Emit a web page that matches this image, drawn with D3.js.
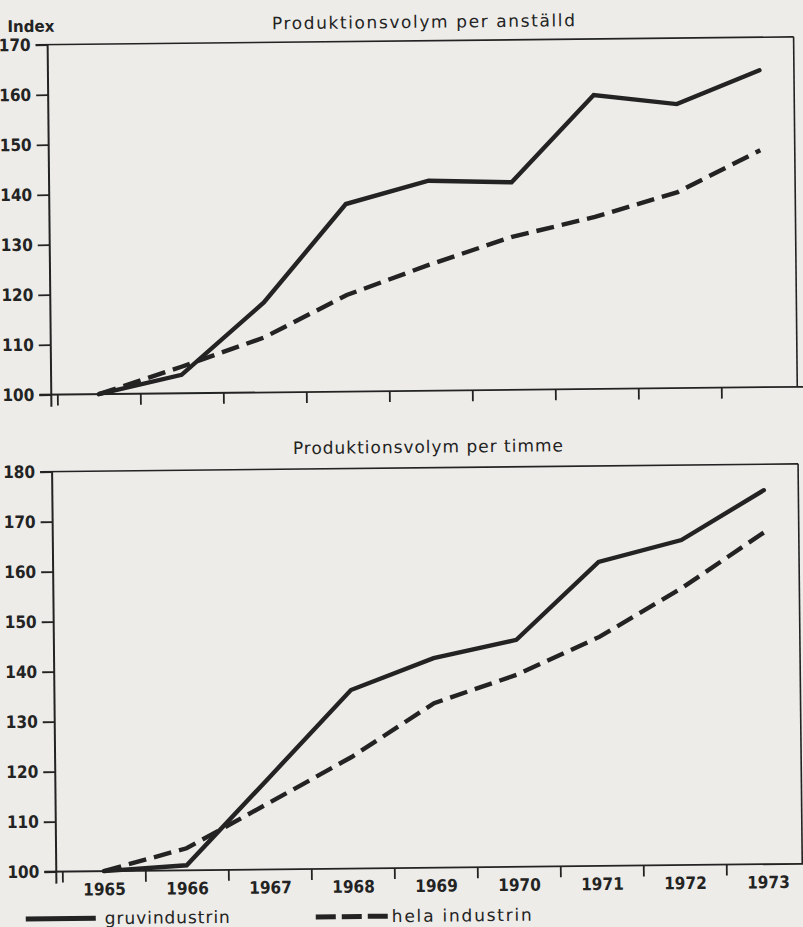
<!DOCTYPE html>
<html>
<head>
<meta charset="utf-8">
<script src="https://cdn.jsdelivr.net/npm/d3@7"></script>
<style>
  html, body { margin: 0; padding: 0; background: #edece8; }
  svg { display: block; }
</style>
</head>
<body>
<svg id="chart" width="803" height="927"></svg>
<script>
// ---- data ----
const years = [1965, 1966, 1967, 1968, 1969, 1970, 1971, 1972, 1973];
const perAnstalldGruv = [100, 103.7, 118, 137.5, 142, 141.5, 158.8, 156.8, 163.4];
const perAnstalldHela = [100, 105.3, 111, 119.3, 125.2, 130.6, 134.4, 139.2, 147.4];
const perTimmeGruv = [100, 101, 118.3, 135.7, 141.9, 145.4, 160.8, 165, 174.8];
const perTimmeHela = [100, 104.4, 113.3, 122.3, 132.9, 138.4, 145.8, 155.4, 166.4];
const topTicks = [100, 110, 120, 130, 140, 150, 160, 170];
const bottomTicks = [100, 110, 120, 130, 140, 150, 160, 170, 180];
const titles = ["Produktionsvolym per anställd", "Produktionsvolym per timme"];
const seriesNames = ["gruvindustrin", "hela industrin"];
const yLabel = "Index";

// ---- layout ----
const ink = "#232323";
const frameLeft = 52, frameRight = 798;
const x = d3.scaleLinear().domain([1965, 1973]).range([99.5, 763.5]);
const tickYears = d3.range(1964.5, 1973, 1);

const svg = d3.select("#chart");
const g = svg.append("g").attr("transform", "rotate(-0.6,400,460)");

const numFont = "'DejaVu Sans Condensed','Liberation Sans Narrow','Arial Narrow',sans-serif";
const txtFont = "'DejaVu Sans','Noto Sans',sans-serif";

function panel(y, ticks, s1, s2, title, titleY, showYears) {
  const top = y(ticks[ticks.length - 1]), base = y(ticks[0]);
  const p = g.append("g");
  // frame
  p.append("line").attr("x1", 40).attr("x2", frameRight).attr("y1", top).attr("y2", top)
    .attr("stroke", ink).attr("stroke-width", 1.6);
  p.append("line").attr("x1", frameRight).attr("x2", frameRight).attr("y1", top).attr("y2", base)
    .attr("stroke", ink).attr("stroke-width", 1.6);
  p.append("line").attr("x1", frameLeft).attr("x2", frameLeft).attr("y1", top).attr("y2", base + 12)
    .attr("stroke", ink).attr("stroke-width", 2);
  p.append("line").attr("x1", 40).attr("x2", 810).attr("y1", base).attr("y2", base)
    .attr("stroke", ink).attr("stroke-width", 1.8);
  // y axis ticks + labels
  const ya = d3.axisLeft(y).tickValues(ticks).tickSize(12).tickPadding(5).tickFormat(d3.format("d"));
  const ax = p.append("g").attr("transform", `translate(${frameLeft},0)`).call(ya);
  ax.select(".domain").remove();
  ax.selectAll(".tick line").attr("stroke", ink).attr("stroke-width", 1.8);
  ax.selectAll(".tick text").attr("fill", ink).style("font-family", numFont)
    .style("font-size", "17px").style("font-weight", "bold");
  // x ticks
  const xa = d3.axisBottom(x).tickValues(tickYears).tickSize(11).tickFormat("");
  const bx = p.append("g").attr("transform", `translate(0,${base})`).call(xa);
  bx.select(".domain").remove();
  bx.selectAll(".tick line").attr("stroke", ink).attr("stroke-width", 1.8);
  if (showYears) {
    const yx = d3.axisBottom(x).tickValues(years).tickSize(0).tickPadding(12).tickFormat(d3.format("d"));
    const lx = p.append("g").attr("transform", `translate(0,${base})`).call(yx);
    lx.select(".domain").remove();
    lx.selectAll(".tick text").attr("fill", ink).style("font-family", numFont)
      .style("font-size", "17px").style("font-weight", "bold");
  }
  // title
  p.append("text").attr("x", 428).attr("y", titleY).attr("text-anchor", "middle")
    .attr("fill", ink).style("font-family", txtFont).style("font-size", "17px")
    .attr("textLength", title === titles[0] ? 303 : 270).attr("lengthAdjust", "spacing")
    .text(title);
  // lines
  const line = d3.line().x((d, i) => x(years[i])).y(d => y(d));
  p.append("path").datum(s1).attr("d", line).attr("fill", "none").attr("stroke", ink)
    .attr("stroke-width", 4.4).attr("stroke-linejoin", "miter").attr("stroke-linecap", "round");
  p.append("path").datum(s2).attr("d", line).attr("fill", "none").attr("stroke", ink)
    .attr("stroke-width", 4.4).attr("stroke-dasharray", "18,8").attr("stroke-linejoin", "miter");
}

const yTop = d3.scaleLinear().domain([100, 170]).range([391, 41]);
const yBot = d3.scaleLinear().domain([100, 180]).range([868, 468]);

panel(yTop, topTicks, perAnstalldGruv, perAnstalldHela, titles[0], 28, false);
panel(yBot, bottomTicks, perTimmeGruv, perTimmeHela, titles[1], 453, true);

// y label
g.append("text").attr("x", 12).attr("y", 28).attr("fill", ink)
  .style("font-family", txtFont).style("font-size", "16px").style("font-weight", "bold")
  .attr("textLength", 47).attr("lengthAdjust", "spacingAndGlyphs")
  .text(yLabel);

// legend
const leg = g.append("g");
leg.append("line").attr("x1", 21).attr("x2", 91).attr("y1", 915).attr("y2", 915)
  .attr("stroke", ink).attr("stroke-width", 5);
leg.append("text").attr("x", 100).attr("y", 921).attr("fill", ink)
  .style("font-family", txtFont).style("font-size", "17px")
  .attr("textLength", 125).attr("lengthAdjust", "spacing").text(seriesNames[0]);
leg.append("line").attr("x1", 311).attr("x2", 384).attr("y1", 916).attr("y2", 916)
  .attr("stroke", ink).attr("stroke-width", 5).attr("stroke-dasharray", "20,6");
leg.append("text").attr("x", 387).attr("y", 922).attr("fill", ink)
  .style("font-family", txtFont).style("font-size", "17px")
  .attr("textLength", 140).attr("lengthAdjust", "spacing").text(seriesNames[1]);
</script>
</body>
</html>
